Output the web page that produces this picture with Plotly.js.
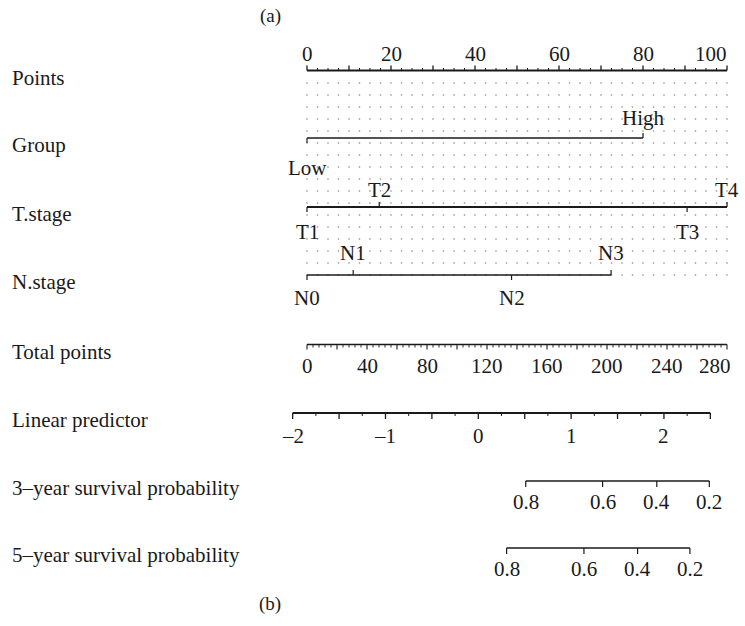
<!DOCTYPE html>
<html><head><meta charset="utf-8">
<script src="https://cdn.plot.ly/plotly-3.0.1.min.js"></script>
<style>html,body{margin:0;padding:0;background:#fff}#chart{width:745px;height:626px}</style>
</head><body><div id="chart"></div>
<script>
// ---- data ----
const pointsTicks = [0, 20, 40, 60, 80, 100];
const groupLevels = ['Low', 'High'];
const groupPoints = [0, 80];
const tLevels = ['T1', 'T2', 'T3', 'T4'];
const tPoints = [0, 17.2, 90.5, 100];
const nLevels = ['N0', 'N1', 'N2', 'N3'];
const nPoints = [0, 11, 48.7, 72.4];
const totalTicks = [0, 40, 80, 120, 160, 200, 240, 280];
const totalMax = 280;
const lpTicks = [-2, -1, 0, 1, 2];
const lpRange = [-2, 2.5];
const lpZeroTotal = 114.2;   // total points at linear predictor 0
const totalPerLP = 61.88;    // total points per unit of linear predictor
const surv3Ticks = [0.8, 0.6, 0.4, 0.2];
const surv3LP = [0.511, 1.339, 1.923, 2.489];
const surv5Ticks = [0.8, 0.6, 0.4, 0.2];
const surv5LP = [0.305, 1.138, 1.716, 2.280];
const rowTitles = ['Points', 'Group', 'T.stage', 'N.stage', 'Total points', 'Linear predictor',
  '3\u2013year survival probability', '5\u2013year survival probability'];

// ---- layout constants ----
const W = 745, H = 626, X0 = 307, PXPT = 4.2;
const rowY = [70.5, 138, 207, 275, 344.5, 413, 481, 548];
const FONT = {family: 'Liberation Serif, Times New Roman, serif', size: 21, color: '#1a1a1a'};
const INK = '#1a1a1a';

const tot2pt = t => t * 100 / totalMax;
const lp2pt = l => tot2pt(lpZeroTotal + l * totalPerLP);
const px2pt = p => (p - X0) / PXPT;

const traces = [];
const ann = [];
function line(xs, ys, w) {
  traces.push({type: 'scatter', mode: 'lines', x: xs, y: ys, line: {color: INK, width: w},
    hoverinfo: 'skip', showlegend: false, connectgaps: false});
}
function ticks(xs, y, len, w) {
  const X = [], Y = [];
  xs.forEach(x => { X.push(x, x, null); Y.push(y, y + len, null); });
  line(X, Y, w);
}
function label(x, y, text, opts) {
  ann.push(Object.assign({x: x, y: y, xref: 'x', yref: 'y', text: text, showarrow: false,
    xanchor: 'center', yanchor: 'middle', font: FONT}, opts || {}));
}

// dotted grid
(function () {
  const X = [], Y = [];
  for (let r = 0; r < 17; r++) {
    for (let c = 0; c <= 40; c++) { X.push(c * 2.5); Y.push(83 + r * 12); }
  }
  traces.push({type: 'scatter', mode: 'markers', x: X, y: Y,
    marker: {size: 1.6, color: '#8a8a8a'}, hoverinfo: 'skip', showlegend: false});
})();

// Points axis
line([0, 100], [rowY[0], rowY[0]], 2);
{
  const minor = [], major = [];
  for (let v = 0; v <= 100; v += 2.5) (v % 10 === 0 ? major : minor).push(v);
  ticks(major, rowY[0], -5, 1.3);
  ticks(minor, rowY[0], -2.5, 1);
}
pointsTicks.forEach(v => label(v, rowY[0] - 17, String(v),
  v === 100 ? {xanchor: 'right', xshift: 2} : {}));

// categorical rows
function catRow(levels, pts, y, w, upOff, downOff) {
  line([Math.min(...pts), Math.max(...pts)], [y, y], w);
  levels.forEach((lv, i) => {
    const up = i % 2 === 1;
    ticks([pts[i]], y, up ? -5 : 5, 1.2);
    label(pts[i], y + (up ? upOff : downOff), lv);
  });
}
catRow(groupLevels, groupPoints, rowY[1], 1.3, -20, 30);
catRow(tLevels, tPoints, rowY[2], 2, -17, 25);
catRow(nLevels, nPoints, rowY[3], 1.5, -22, 22.5);

// Total points
line([0, 100], [rowY[4], rowY[4]], 1.5);
{
  const minor = [], major = [];
  for (let v = 0; v <= totalMax; v += 4) (v % 20 === 0 ? major : minor).push(tot2pt(v));
  ticks(major, rowY[4], 5, 1.1);
  ticks(minor, rowY[4], 3, 0.9);
}
totalTicks.forEach(v => label(tot2pt(v), rowY[4] + 21, String(v),
  v === totalMax ? {xanchor: 'right', xshift: 6} : {}));

// Linear predictor
line([lp2pt(lpRange[0]), lp2pt(lpRange[1])], [rowY[5], rowY[5]], 2);
{
  const minor = [], major = [];
  for (let k = 0; k <= (lpRange[1] - lpRange[0]) / 0.25 + 1e-9; k++) {
    const v = lpRange[0] + k * 0.25;
    (k % 2 === 0 ? major : minor).push(lp2pt(v));
  }
  ticks(major, rowY[5], 6, 1.3);
  ticks(minor, rowY[5], 3, 1);
}
lpTicks.forEach(v => label(lp2pt(v), rowY[5] + 23, (v < 0 ? '\u2013' : '') + Math.abs(v)));

// survival rows
function survRow(tk, lps, y) {
  const xs = lps.map(lp2pt);
  line([Math.min(...xs), Math.max(...xs)], [y, y], 1.3);
  ticks(xs, y, 6, 1.2);
  tk.forEach((v, i) => label(xs[i], y + 21, v.toFixed(1)));
}
survRow(surv3Ticks, surv3LP, rowY[6]);
survRow(surv5Ticks, surv5LP, rowY[7]);

// row titles
rowTitles.forEach((t, i) => label(px2pt(10), rowY[i] + 7, t, {xanchor: 'left'}));

// panel tags
label(px2pt(270), 16, '(a)', {font: Object.assign({}, FONT, {size: 19})});
label(px2pt(270), 604, '(b)', {font: Object.assign({}, FONT, {size: 19})});

const layout = {
  width: W, height: H, margin: {l: 0, r: 0, t: 0, b: 0},
  paper_bgcolor: '#fff', plot_bgcolor: '#fff', showlegend: false,
  xaxis: {range: [px2pt(0), px2pt(W)], visible: false, fixedrange: true},
  yaxis: {range: [H, 0], visible: false, fixedrange: true},
  annotations: ann, font: FONT
};
Plotly.newPlot('chart', traces, layout, {staticPlot: true, displayModeBar: false});
</script></body></html>
